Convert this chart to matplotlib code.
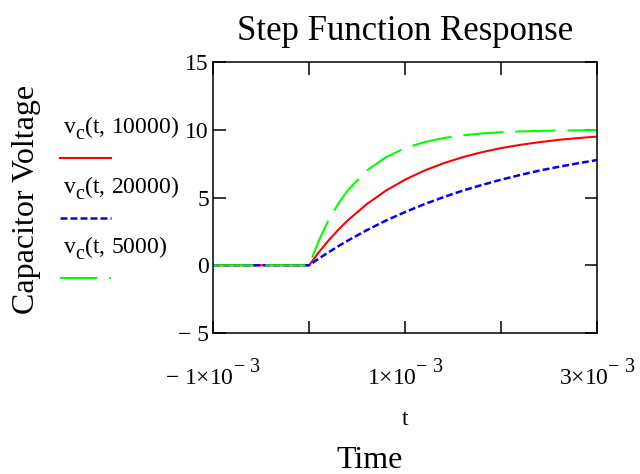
import numpy as np
import matplotlib
matplotlib.use('Agg')
import matplotlib.pyplot as plt
import matplotlib._mathtext as mtext
from matplotlib.lines import Line2D

# time points (s) and capacitor voltage
t = [-1e-3, 0.0, 0.1e-3, 0.2e-3, 0.3e-3, 0.4e-3, 0.6e-3, 0.8e-3, 1.0e-3,
     1.2e-3, 1.4e-3, 1.6e-3, 1.8e-3, 2.0e-3, 2.2e-3, 2.4e-3, 2.6e-3,
     2.8e-3, 3.0e-3]
vc_10000 = [0, 0, 0.95, 1.81, 2.59, 3.30, 4.51, 5.51, 6.32,
            6.99, 7.53, 7.98, 8.35, 8.65, 8.89, 9.09, 9.26, 9.39, 9.50]
vc_20000 = [0, 0, 0.49, 0.95, 1.39, 1.81, 2.59, 3.30, 3.93,
            4.51, 5.03, 5.51, 5.93, 6.32, 6.67, 6.99, 7.27, 7.53, 7.77]
vc_5000 = [0, 0, 1.81, 3.30, 4.51, 5.51, 6.99, 7.98, 8.65,
           9.09, 9.39, 9.59, 9.73, 9.82, 9.88, 9.92, 9.95, 9.96, 9.98]

labels = ['10000', '20000', '5000']
series = [vc_10000, vc_20000, vc_5000]
colours = ['#ff0000', '#0000ff', '#00ff00']
dashes = [None, (5, 2.2), (29, 8.5)]
leg_dashes = [None, (5, 2.2), (27, 8.5)]
widths = [1.5, 1.8, 1.5]

xticks = [-1e-3, 0, 1e-3, 2e-3, 3e-3]
xticklabels = [r'$-\ 1{\times}10^{-\ 3}$', '', r'$1{\times}10^{-\ 3}$', '',
               r'$3{\times}10^{-\ 3}$']
yticks = [-5, 0, 5, 10, 15]
yticklabels = ['\u2212 5', '0', '5', '10', '15']

plt.rcParams['font.family'] = 'Liberation Serif'
plt.rcParams['mathtext.fontset'] = 'custom'
plt.rcParams['mathtext.rm'] = 'Liberation Serif'
plt.rcParams['mathtext.it'] = 'Liberation Serif:italic'
plt.rcParams['lines.scale_dashes'] = False
# Mathcad draws sub/superscripts nearly full size and further from the baseline
mtext.SHRINK_FACTOR = 0.85
mtext.FontConstantsBase.sup1 = 1.1
mtext.FontConstantsBase.sub1 = 0.6
mtext.FontConstantsBase.sub2 = 0.7

fig = plt.figure(figsize=(6.4, 4.74), dpi=100, facecolor='white')
ax = fig.add_axes([0.333, 0.2975, 0.6, 0.5715])

for vals, colour, d, lw in zip(series, colours, dashes, widths):
    if d is None:
        ax.plot(t, vals, color=colour, lw=lw)
    else:
        ax.plot(t, vals, color=colour, lw=lw, dashes=d)

ax.set_xlim(-1e-3, 3e-3)
ax.set_ylim(-5, 15)
ax.set_xticks(xticks)
ax.set_xticklabels(xticklabels)
ax.set_yticks(yticks)
ax.set_yticklabels(yticklabels)
ax.tick_params(direction='in', length=9, width=1.1, top=True, right=True,
               labelsize=17)
ax.tick_params(axis='x', pad=18)
ax.tick_params(axis='y', pad=3)
for sp in ax.spines.values():
    sp.set_linewidth(1.1)

ax.set_title('Step Function Response', fontsize=25, pad=16)
ax.set_xlabel('t', fontsize=17, labelpad=14)
fig.text(0.578, 0.012, 'Time', fontsize=23, ha='center')
fig.text(0.042, 0.58, 'Capacitor Voltage', fontsize=23, rotation=90,
         ha='center', va='center')

# Mathcad-style legend: label above its line sample
for i, (lab, colour, d, lw) in enumerate(zip(labels, colours, leg_dashes, widths)):
    ybase = 1 - (133 + 60 * i) / 474
    yline = 1 - (158 + 60 * i) / 474
    fig.text(63 / 640, ybase, r'$\mathregular{v_c(t,\,%s)}$' % lab,
             fontsize=17, va='baseline')
    ln = Line2D([60 / 640, 111 / 640], [yline, yline], color=colour, lw=lw,
                transform=fig.transFigure)
    if d is not None:
        ln.set_dashes(d)
    fig.add_artist(ln)

plt.savefig('out.png', dpi=100, facecolor='white')
